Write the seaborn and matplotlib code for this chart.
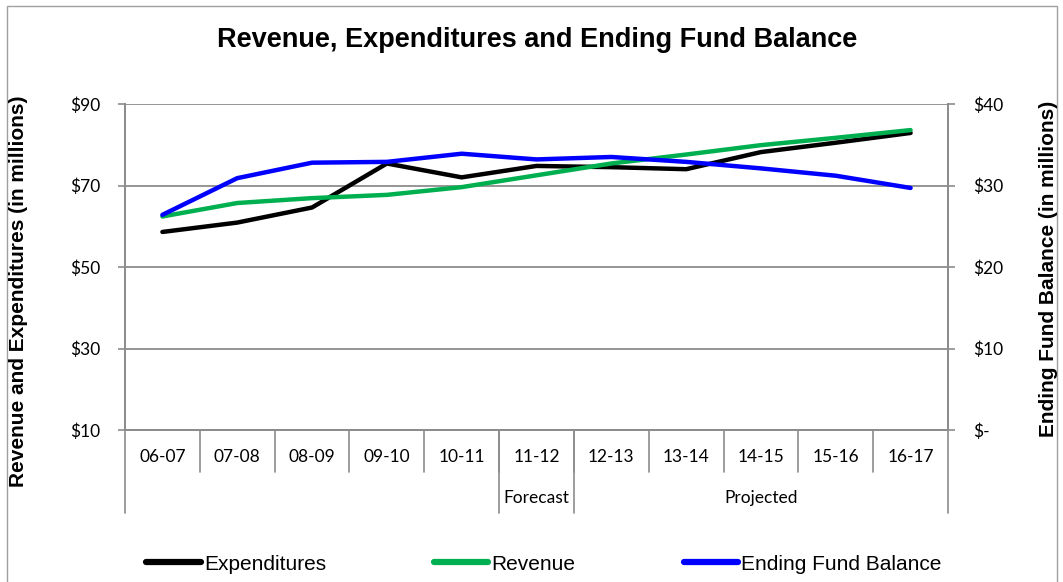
import matplotlib
matplotlib.use("Agg")
import matplotlib.pyplot as plt
from matplotlib.patches import Rectangle
from matplotlib.lines import Line2D
import pandas as pd
import seaborn as sns

years = ["06-07", "07-08", "08-09", "09-10", "10-11", "11-12",
         "12-13", "13-14", "14-15", "15-16", "16-17"]
expenditures = [58.6, 60.9, 64.6, 75.4, 72.0, 74.8, 74.5, 74.0, 78.2, 80.5, 82.9]
revenue = [62.4, 65.7, 66.9, 67.7, 69.6, 72.5, 75.4, 77.6, 79.9, 81.7, 83.6]
fund_balance = [26.4, 30.9, 32.8, 32.9, 33.9, 33.2, 33.5, 32.9, 32.1, 31.2, 29.7]
groups = [("Forecast", 5, 5), ("Projected", 6, 10)]

left_ticks = [10, 30, 50, 70, 90]
left_labels = ["$10", "$30", "$50", "$70", "$90"]
right_ticks = [0, 10, 20, 30, 40]
right_labels = ["$-", "$10", "$20", "$30", "$40"]

sns.set_style("white")
plt.rcParams["font.family"] = ["Liberation Sans", "DejaVu Sans"]
plt.rcParams["text.color"] = "black"
plt.rcParams["xtick.labelcolor"] = "black"
plt.rcParams["ytick.labelcolor"] = "black"
tick_font = ["Lato", "DejaVu Sans"]

W, H = 1063, 582
fig = plt.figure(figsize=(W / 100, H / 100), dpi=100)
ax = fig.add_axes([125 / W, 1 - 430 / H, (948 - 125) / W, (430 - 104) / H])

df = pd.DataFrame({"year": years, "Expenditures": expenditures, "Revenue": revenue})
sns.lineplot(data=df, x="year", y="Expenditures", ax=ax, color="black", lw=3.2,
             sort=False, solid_capstyle="round")
sns.lineplot(data=df, x="year", y="Revenue", ax=ax, color="#00B050", lw=3.2,
             sort=False, solid_capstyle="round")

ax2 = ax.twinx()
sns.lineplot(x=years, y=fund_balance, ax=ax2, color="#0000FF", lw=3.2,
             sort=False, solid_capstyle="round")

grid_c = "#8c8c8c"
ax.set_xlim(-0.5, len(years) - 0.5)
ax.set_ylim(10, 90)
ax2.set_ylim(0, 40)
ax.set_yticks(left_ticks)
ax.set_yticklabels(left_labels, fontsize=12.5, family=tick_font)
ax2.set_yticks(right_ticks)
ax2.set_yticklabels(right_labels, fontsize=12.5, family=tick_font)
for t in left_ticks:
    ax.axhline(t, color=grid_c, lw=1.3, zorder=0)
ax.set_xlabel("")
ax.set_ylabel("")
ax2.set_ylabel("")
ax.tick_params(axis="y", length=5, width=1.2, color=grid_c, direction="out", pad=13)
ax2.tick_params(axis="y", length=5, width=1.2, color=grid_c, direction="out", pad=13)
ax.tick_params(axis="x", length=0, pad=14)
for lab in ax.get_xticklabels():
    lab.set_fontfamily(tick_font)
    lab.set_fontsize(12.5)
for a in (ax, ax2):
    for s in a.spines.values():
        s.set_color(grid_c)
        s.set_linewidth(1.3)
    a.spines["top"].set_visible(False)

# multi-level category axis separators
trans = ax.get_xaxis_transform()
ph = 430 - 104
lvl1 = -(472 - 430) / ph
lvl2 = -(513 - 430) / ph
for i in range(1, len(years)):
    ax.add_line(Line2D([i - 0.5, i - 0.5], [0, lvl1], transform=trans,
                       color=grid_c, lw=1.2, clip_on=False))
for b in [-0.5, 4.5, 5.5, len(years) - 0.5]:
    ax.add_line(Line2D([b, b], [0, lvl2], transform=trans,
                       color=grid_c, lw=1.2, clip_on=False))
for name, a, b in groups:
    ax.text((a + b) / 2, -(498 - 430) / ph, name, transform=trans, ha="center",
            va="center", fontsize=12.5, family=tick_font)

fig.text(537 / W, 1 - 40 / H, "Revenue, Expenditures and Ending Fund Balance",
         ha="center", va="center", fontsize=19.5, fontweight="bold")
fig.text(19 / W, 1 - 291 / H, "Revenue and Expenditures (in millions)",
         rotation=90, ha="center", va="center", fontsize=15, fontweight="bold")
fig.text(1049 / W, 1 - 269 / H, "Ending Fund Balance (in millions)",
         rotation=90, ha="center", va="center", fontsize=15, fontweight="bold")

handles = [Line2D([], [], color="black", lw=4.5, solid_capstyle="round"),
           Line2D([], [], color="#00B050", lw=4.5, solid_capstyle="round"),
           Line2D([], [], color="#0000FF", lw=4.5, solid_capstyle="round")]
fig.legend(handles, ["Expenditures", "Revenue", "Ending Fund Balance"],
           loc="center", bbox_to_anchor=(544 / W, 1 - 564 / H), ncol=3,
           frameon=False, fontsize=15, handlelength=2.6, handletextpad=0.15,
           columnspacing=5.2)

fig.patches.append(Rectangle((7 / W, -0.05), (1057 - 7) / W, 1 - 6 / H + 0.05,
                             transform=fig.transFigure, fill=False,
                             edgecolor="#a0a0a0", lw=1))

fig.savefig("out.png", dpi=100)
